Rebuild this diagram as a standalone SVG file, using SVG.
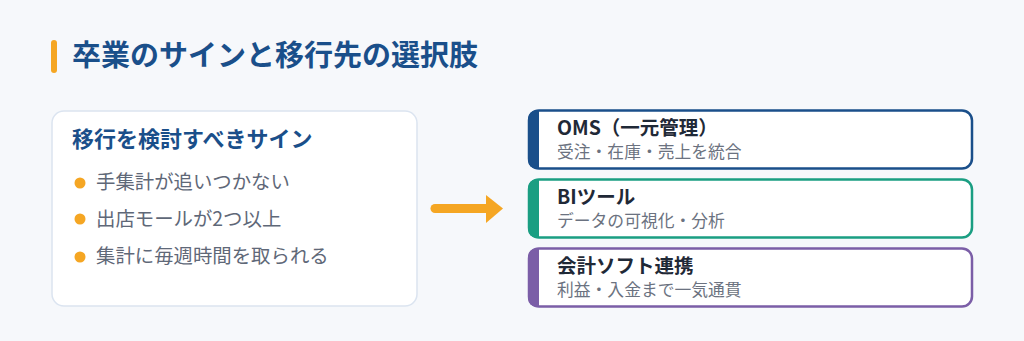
<svg xmlns="http://www.w3.org/2000/svg" width="1024" height="341" viewBox="0 0 1024 341">
<style>
text{font-family:"Noto Sans CJK JP","Noto Sans",sans-serif}
.h1{font-size:29px;font-weight:700;fill:#1a4f8a}
.ct{font-size:22px;font-weight:700;fill:#1a4f8a}
.li{font-size:19.4px;fill:#5f6878}
.bt{font-size:19.5px;font-weight:700;fill:#1f2937}
.bs{font-size:16.8px;fill:#6b7280}
.dot{fill:#f5a623}
</style>
<rect width="1024" height="341" fill="#f6f8fb"/>
<g id="title">
<rect x="51" y="40" width="6" height="33" rx="3" fill="#f5a623"/>
<text class="h1" x="72" y="66">卒業のサインと移行先の選択肢</text>
</g>
<g id="signs">
<rect x="52" y="111" width="365" height="195" rx="12" fill="#ffffff" stroke="#dbe4f0" stroke-width="1.5"/>
<text class="ct" x="72" y="147">移行を検討すべきサイン</text>
<circle class="dot" cx="80" cy="183" r="5.5"/>
<text class="li" x="96" y="189">手集計が追いつかない</text>
<circle class="dot" cx="80" cy="219" r="5.5"/>
<text class="li" x="96" y="226">出店モールが2つ以上</text>
<circle class="dot" cx="80" cy="257" r="5.5"/>
<text class="li" x="96" y="263">集計に毎週時間を取られる</text>
</g>
<g id="connectors">
<line x1="435" y1="208.5" x2="488" y2="208.5" stroke="#f5a623" stroke-width="9" stroke-linecap="round"/>
<polygon points="486,195 503,208.5 486,223" fill="#f5a623"/>
</g>
<g id="oms">
<rect x="529" y="110.5" width="443" height="58" rx="10" fill="#ffffff" stroke="#1a4f8a" stroke-width="2.5"/>
<path d="M539,110.5 h-3 a8,8 0 0 0 -8,8 v42 a8,8 0 0 0 8,8 h3 z" fill="#1a4f8a"/>
<text class="bt" x="557" y="135">OMS（一元管理）</text>
<text class="bs" x="557" y="158">受注・在庫・売上を統合</text>
</g>
<g id="bi">
<rect x="529" y="179.5" width="443" height="58" rx="10" fill="#ffffff" stroke="#1a9e82" stroke-width="2.5"/>
<path d="M539,179.5 h-3 a8,8 0 0 0 -8,8 v42 a8,8 0 0 0 8,8 h3 z" fill="#1a9e82"/>
<text class="bt" x="557" y="204">BIツール</text>
<text class="bs" x="557" y="227">データの可視化・分析</text>
</g>
<g id="accounting">
<rect x="529" y="248.5" width="443" height="58" rx="10" fill="#ffffff" stroke="#7b5ea7" stroke-width="2.5"/>
<path d="M539,248.5 h-3 a8,8 0 0 0 -8,8 v42 a8,8 0 0 0 8,8 h3 z" fill="#7b5ea7"/>
<text class="bt" x="557" y="273">会計ソフト連携</text>
<text class="bs" x="557" y="296">利益・入金まで一気通貫</text>
</g>
</svg>
